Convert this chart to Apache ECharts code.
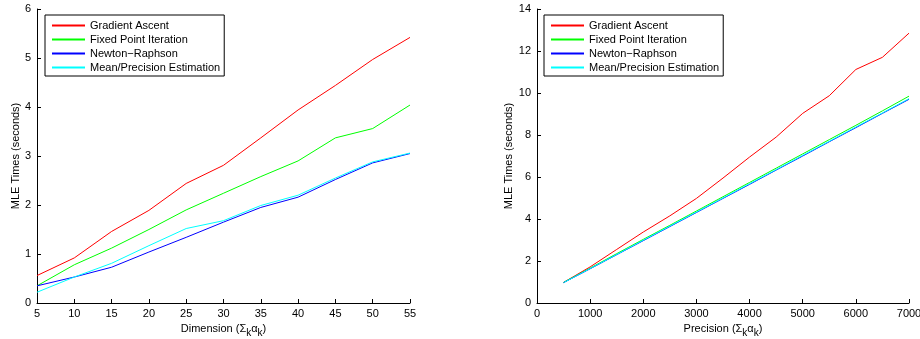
<!DOCTYPE html>
<html>
<head>
<meta charset="utf-8">
<script src="https://cdn.jsdelivr.net/npm/echarts@6/dist/echarts.min.js"></script>
<style>
  html, body { margin: 0; padding: 0; background: #fff; }
  #chart { width: 920px; height: 339px; }
</style>
</head>
<body>
<div id="chart"></div>
<script>
// left panel: time vs dimension
const dimX = [5, 10, 15, 20, 25, 30, 35, 40, 45, 50, 55];
const dimGradient = [0.56, 0.92, 1.46, 1.89, 2.44, 2.81, 3.37, 3.94, 4.44, 4.97, 5.42];
const dimFixed = [0.35, 0.78, 1.12, 1.50, 1.90, 2.24, 2.58, 2.90, 3.37, 3.56, 4.04];
const dimNewton = [0.35, 0.53, 0.73, 1.04, 1.34, 1.65, 1.95, 2.16, 2.52, 2.86, 3.05];
const dimMeanPrec = [0.22, 0.53, 0.81, 1.17, 1.52, 1.68, 1.99, 2.20, 2.55, 2.88, 3.06];

// right panel: time vs precision
const precX = [500, 1000, 1500, 2000, 2500, 3000, 3500, 4000, 4500, 5000, 5500, 6000, 6500, 7000];
const precGradient = [0.98, 1.72, 2.55, 3.38, 4.15, 4.98, 5.95, 6.95, 7.90, 9.03, 9.87, 11.12, 11.70, 12.85];
const precFixed = [0.98, 1.66, 2.35, 3.03, 3.70, 4.38, 5.06, 5.74, 6.42, 7.10, 7.78, 8.46, 9.15, 9.85];
const precNewton = [0.97, 1.63, 2.30, 2.97, 3.64, 4.31, 4.98, 5.65, 6.33, 7.00, 7.68, 8.35, 9.03, 9.70];
const precMeanPrec = [0.97, 1.64, 2.31, 2.99, 3.66, 4.33, 5.00, 5.68, 6.35, 7.03, 7.70, 8.38, 9.05, 9.73];

const names = ['Gradient Ascent', 'Fixed Point Iteration', 'Newton\u2212Raphson', 'Mean/Precision Estimation'];
const colors = ['#ff0000', '#00ff00', '#0000ff', '#00ffff'];

const font = 'Liberation Sans, Arial, sans-serif';

function zip(xs, ys) {
  return xs.map((x, i) => [x, ys[i]]);
}

function makeAxisX(idx, min, max, interval, label) {
  return {
    type: 'value', gridIndex: idx, min: min, max: max, interval: interval,
    name: label, nameLocation: 'middle', nameGap: 17,
    nameTextStyle: {
      color: '#000', fontFamily: font, fontSize: 11,
      rich: {
        n: { color: '#000', fontFamily: font, fontSize: 11 },
        s: { color: '#000', fontFamily: font, fontSize: 10, padding: [8, 0, 0, 0] }
      }
    },
    axisLine: { show: true, lineStyle: { color: '#000', width: 1 } },
    axisTick: { inside: true, length: 4, lineStyle: { color: '#000' } },
    axisLabel: { color: '#000', fontFamily: font, fontSize: 11, margin: 5, formatter: v => String(v) },
    splitLine: { show: false }
  };
}

function makeAxisY(idx, max, interval, gap) {
  return {
    type: 'value', gridIndex: idx, min: 0, max: max, interval: interval,
    name: 'MLE Times (seconds)', nameLocation: 'middle', nameGap: gap,
    nameTextStyle: { color: '#000', fontFamily: font, fontSize: 11 },
    axisLine: { show: true, lineStyle: { color: '#000', width: 1 } },
    axisTick: { inside: true, length: 4, lineStyle: { color: '#000' } },
    axisLabel: { color: '#000', fontFamily: font, fontSize: 11, margin: 6 },
    splitLine: { show: false }
  };
}

function makeLegend(left) {
  return {
    left: left, top: 15, orient: 'vertical',
    data: names.map((n, i) => ({
      name: n,
      icon: 'rect',
      itemStyle: { color: colors[i], borderWidth: 0, opacity: 1 }
    })),
    itemWidth: 33, itemHeight: 2, itemGap: 3,
    padding: [5, 4, 3, 7],
    borderColor: '#000', borderWidth: 1, borderRadius: 0,
    backgroundColor: '#fff',
    textStyle: { color: '#000', fontFamily: font, fontSize: 11 }
  };
}

const leftSets = [dimGradient, dimFixed, dimNewton, dimMeanPrec];
const rightSets = [precGradient, precFixed, precNewton, precMeanPrec];

const series = [];
leftSets.forEach((ys, i) => {
  series.push({
    name: names[i], type: 'line', xAxisIndex: 0, yAxisIndex: 0,
    data: zip(dimX, ys), symbol: 'none',
    lineStyle: { color: colors[i], width: 1 }, itemStyle: { color: colors[i] }
  });
});
rightSets.forEach((ys, i) => {
  series.push({
    name: names[i], type: 'line', xAxisIndex: 1, yAxisIndex: 1,
    data: zip(precX, ys), symbol: 'none',
    lineStyle: { color: colors[i], width: 1 }, itemStyle: { color: colors[i] }
  });
});

const chart = echarts.init(document.getElementById('chart'));
chart.setOption({
  animation: false,
  backgroundColor: '#fff',
  legend: [makeLegend(45), makeLegend(544)],
  grid: [
    { left: 37, right: 510, top: 9, bottom: 36, outerBoundsMode: 'none', containLabel: false },
    { left: 537, right: 11, top: 9, bottom: 36, outerBoundsMode: 'none', containLabel: false }
  ],
  xAxis: [
    makeAxisX(0, 5, 55, 5, '{n|Dimension (\u03A3}{s|k}{n|\u03B1}{s|k}{n|)}'),
    makeAxisX(1, 0, 7000, 1000, '{n|Precision (\u03A3}{s|k}{n|\u03B1}{s|k}{n|)}')
  ],
  yAxis: [makeAxisY(0, 6, 1, 15), makeAxisY(1, 14, 2, 22)],
  series: series
});
</script>
</body>
</html>
